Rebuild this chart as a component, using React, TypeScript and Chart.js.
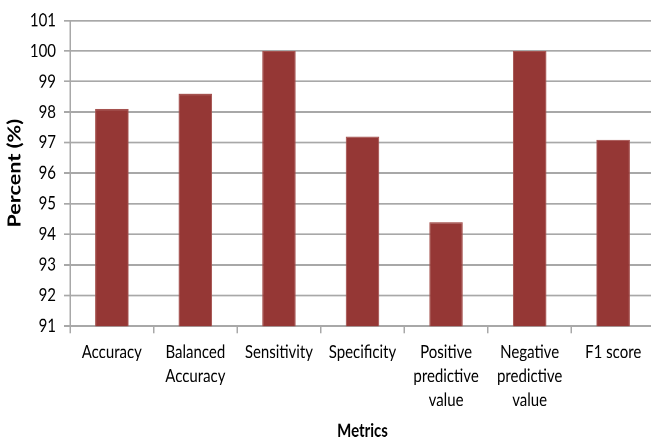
import React, { useEffect, useRef } from "react";
import { Chart, registerables } from "chart.js";

Chart.register(...registerables);

const categories: (string | string[])[] = [
  "Accuracy",
  ["Balanced", "Accuracy"],
  "Sensitivity",
  "Specificity",
  ["Positive", "predictive", "value"],
  ["Negative", "predictive", "value"],
  "F1 score",
];
const percentValues = [98.1, 98.6, 100, 97.2, 94.4, 100, 97.1];
const yMin = 91;
const yMax = 101;
const yStep = 1;

const FONT = "Lato, 'Open Sans', sans-serif";
const GRID = "#a8a8a8";
const BAR = "#953735";
const STRETCH = 1.2;
const W = 655;
const H = 368;

export default function App() {
  const ref = useRef<HTMLCanvasElement | null>(null);

  useEffect(() => {
    document.body.style.margin = "0";
    document.body.style.overflow = "hidden";
    if (!ref.current) return;
    const chart = new Chart(ref.current, {
      type: "bar",
      data: {
        labels: categories,
        datasets: [
          {
            data: percentValues,
            backgroundColor: BAR,
            borderColor: "#a5524f",
            borderWidth: 1,
            barPercentage: 0.4,
            categoryPercentage: 1,
          },
        ],
      },
      options: {
        animation: false,
        responsive: false,
        maintainAspectRatio: false,
        devicePixelRatio: 2,
        layout: { padding: { top: 17, right: 0, left: 0, bottom: 0 } },
        plugins: {
          legend: { display: false },
          tooltip: { enabled: false },
        },
        scales: {
          x: {
            offset: true,
            grid: {
              offset: true,
              drawOnChartArea: false,
              drawTicks: true,
              tickLength: 6,
              color: GRID,
              lineWidth: 1.5,
            },
            border: { display: false },
            ticks: {
              color: "#000",
              font: { family: FONT, size: 15, lineHeight: 1.33 },
              maxRotation: 0,
              autoSkip: false,
              padding: 6,
            },
            title: {
              display: true,
              text: "Metrics",
              color: "#000",
              font: { family: FONT, size: 15, weight: "bold" },
              padding: { top: 0, bottom: 0 },
            },
            afterFit: (scale: any) => {
              scale.height = 96.3;
            },
          },
          y: {
            min: yMin,
            max: yMax,
            ticks: {
              stepSize: yStep,
              color: "#000",
              font: { family: FONT, size: 15 },
              padding: 8,
            },
            grid: {
              color: GRID,
              lineWidth: 1.5,
              drawTicks: true,
              tickLength: 6,
            },
            border: { display: true, color: GRID, width: 1.5 },
            title: {
              display: true,
              text: "Percent (%)",
              color: "#000",
              font: { family: FONT, size: 18, weight: "bold" },
              padding: { top: 4, bottom: 0 },
            },
            afterFit: (scale: any) => {
              scale.width = 70;
            },
          },
        },
      },
    });
    return () => chart.destroy();
  }, []);

  return (
    <div style={{ width: W, height: 441, overflow: "hidden" }}>
      <div
        style={{
          width: W,
          height: H,
          transform: `scale(1, ${STRETCH})`,
          transformOrigin: "0 0",
        }}
      >
        <canvas
          ref={ref}
          width={W}
          height={H}
          style={{ display: "block", width: W, height: H }}
        />
      </div>
    </div>
  );
}
